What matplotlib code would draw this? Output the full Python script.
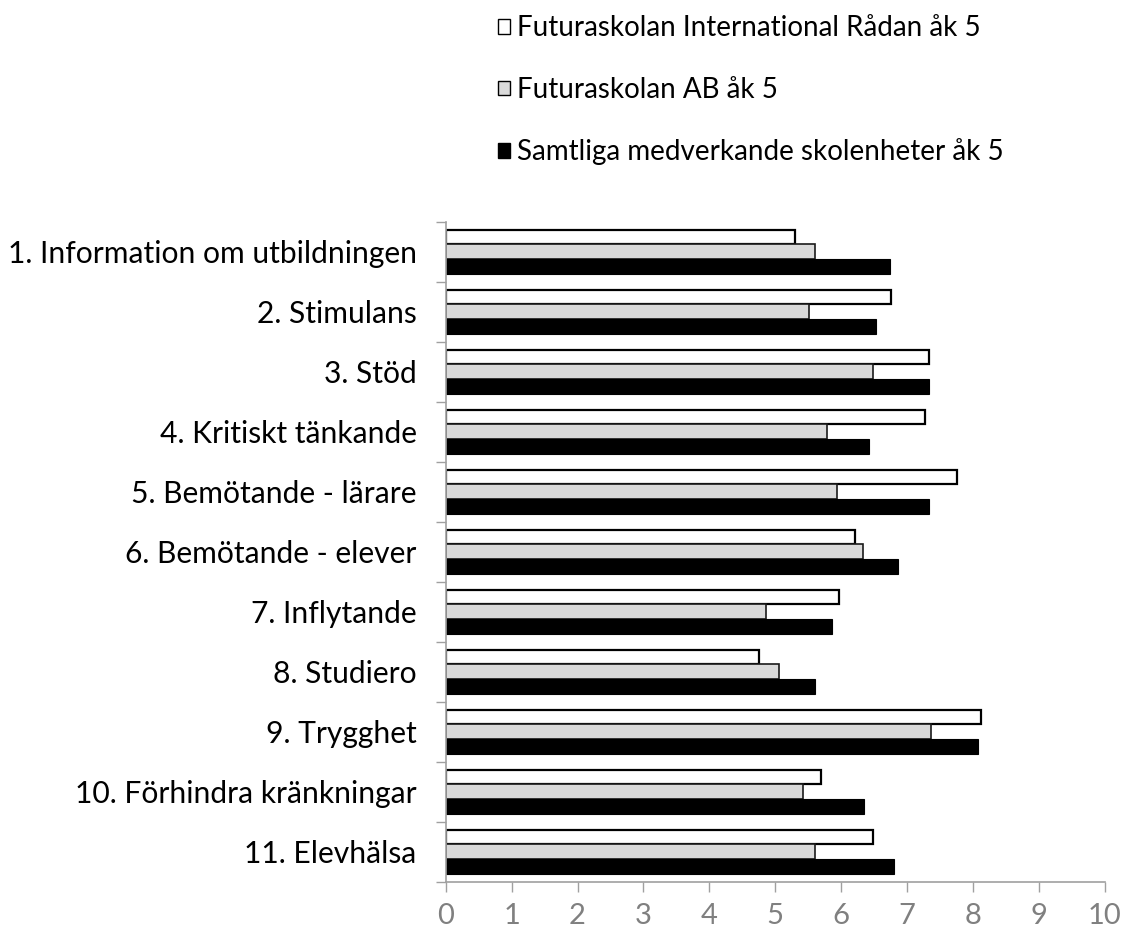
import matplotlib
matplotlib.use('Agg')
import matplotlib.pyplot as plt
from matplotlib.patches import Patch
from matplotlib.ticker import MultipleLocator
import numpy as np

plt.rcParams['font.family'] = ['Lato', 'DejaVu Sans']

categories = ['1. Information om utbildningen', '2. Stimulans', '3. Stöd',
              '4. Kritiskt tänkande', '5. Bemötande - lärare', '6. Bemötande - elever',
              '7. Inflytande', '8. Studiero', '9. Trygghet',
              '10. Förhindra kränkningar', '11. Elevhälsa']
series_names = ['Futuraskolan International Rådan åk 5',
                'Futuraskolan AB åk 5',
                'Samtliga medverkande skolenheter åk 5']
radan = [5.30, 6.76, 7.33, 7.27, 7.76, 6.21, 5.97, 4.75, 8.12, 5.70, 6.49]
futura_ab = [5.60, 5.51, 6.48, 5.79, 5.94, 6.33, 4.86, 5.06, 7.36, 5.42, 5.61]
samtliga = [6.74, 6.53, 7.34, 6.43, 7.34, 6.86, 5.86, 5.61, 8.07, 6.34, 6.80]

fig = plt.figure(figsize=(11.23, 9.32), dpi=100)
ax = fig.add_axes([0.3969, 0.0540, 0.9837 - 0.3969, 0.7621 - 0.0540])

y = np.arange(len(categories))
h = 0.245
ax.barh(y - h, radan, h, color='white', edgecolor='black', linewidth=1.6)
ax.barh(y, futura_ab, h, color='#DADADA', edgecolor='#1a1a1a', linewidth=1.2)
ax.barh(y + h, samtliga, h, color='black', edgecolor='black', linewidth=0.8)

ax.set_xlim(0, 10)
ax.set_ylim(len(categories) - 0.5, -0.5)
ax.xaxis.set_major_locator(MultipleLocator(1))

ax.set_yticks(y)
ax.set_yticklabels(categories, fontsize=21.6)
ax.set_yticks(np.arange(len(categories) + 1) - 0.5, minor=True)
ax.tick_params(axis='y', which='major', length=0, pad=21)
ax.tick_params(axis='y', which='minor', length=7, color='#A0A0A0', width=1)
ax.tick_params(axis='x', length=7, color='#A0A0A0', width=1, pad=8,
               labelsize=21, labelcolor='#808080')

for s in ['top', 'right']:
    ax.spines[s].set_visible(False)
for s in ['left', 'bottom']:
    ax.spines[s].set_color('#A0A0A0')
    ax.spines[s].set_linewidth(1.2)

handles = [Patch(facecolor='white', edgecolor='black', linewidth=1),
           Patch(facecolor='#DADADA', edgecolor='black', linewidth=1),
           Patch(facecolor='black', edgecolor='black', linewidth=1)]
fig.legend(handles, series_names, loc='upper left', bbox_to_anchor=(0.43, 1.0),
           frameon=False, fontsize=20, handlelength=0.42, handleheight=0.42,
           handletextpad=0.25, labelspacing=1.28, borderaxespad=0.15)

fig.savefig('out.png', dpi=100)
